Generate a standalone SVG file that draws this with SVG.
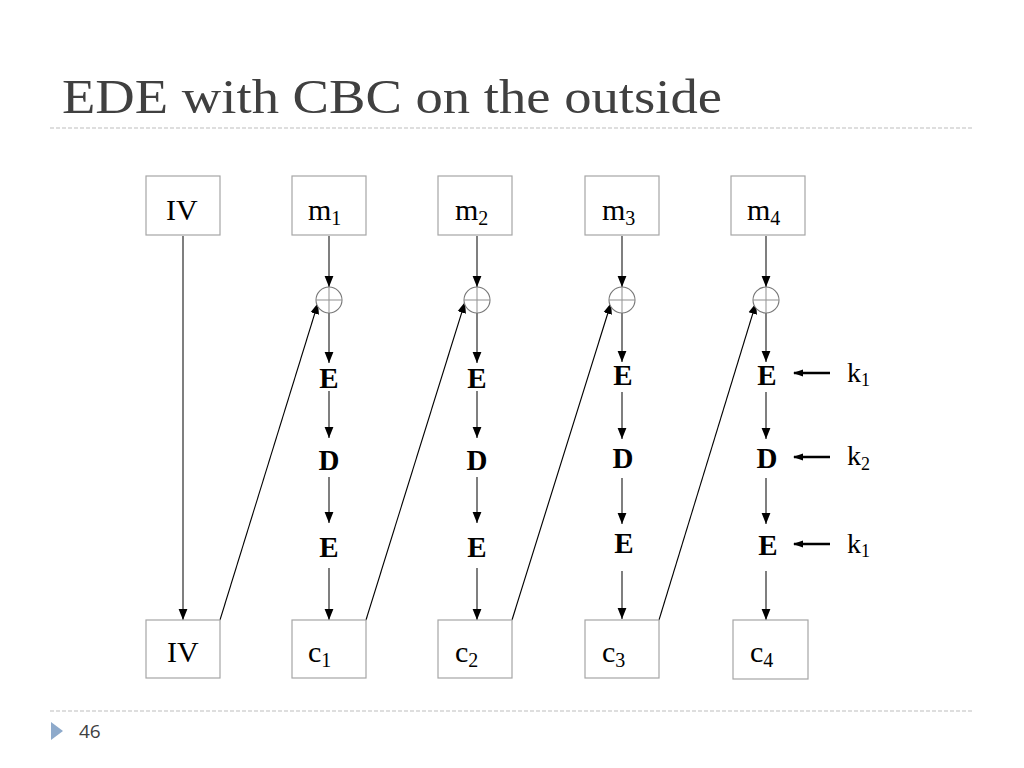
<svg xmlns="http://www.w3.org/2000/svg" width="1024" height="768" viewBox="0 0 1024 768">
<defs>
<style>
.box{fill:#fff;stroke:#a6a6a6;stroke-width:1.2}
.lbl{font-family:"Liberation Serif","Times New Roman",serif;font-size:30px;fill:#000}
.sub{font-size:20px}
.op{font-family:"Liberation Serif","Times New Roman",serif;font-size:29px;font-weight:bold;fill:#000;text-anchor:middle}
.key{font-family:"Liberation Serif","Times New Roman",serif;font-size:28px;fill:#000}
.ksub{font-size:18px}
.v{stroke:#555;stroke-width:1.5;fill:none;marker-end:url(#ah)}
.d{stroke:#000;stroke-width:1.1;fill:none;marker-end:url(#ah)}
.k{stroke:#000;stroke-width:2.6;fill:none;marker-end:url(#ahk)}
.xor{fill:#fff;stroke:#777;stroke-width:1.1}
.xl{stroke:#999;stroke-width:1.1}
.sep{stroke:#bdbdbd;stroke-width:1;stroke-dasharray:4 2}
</style>
<marker id="ah" markerUnits="userSpaceOnUse" markerWidth="11" markerHeight="11" viewBox="0 0 10 10" refX="10" refY="5" orient="auto">
<path d="M0,1 L10,5 L0,9 z" fill="#000"/>
</marker>
<marker id="ahk" markerUnits="userSpaceOnUse" markerWidth="10" markerHeight="10" viewBox="0 0 10 10" refX="9" refY="5" orient="auto">
<path d="M0,1.5 L10,5 L0,8.5 z" fill="#000"/>
</marker>
</defs>
<rect width="1024" height="768" fill="#fff"/>
<g id="title">
<text x="62" y="113" font-family="Liberation Serif,'Times New Roman',serif" font-size="48" fill="#404040" textLength="660" lengthAdjust="spacingAndGlyphs">EDE with CBC on the outside</text>
<line class="sep" x1="50" y1="128" x2="972" y2="128"/>
</g>
<g id="connectors">
<line class="v" x1="183" y1="236" x2="183" y2="620"/>
<line class="v" x1="329" y1="236" x2="329" y2="287"/>
<line class="v" x1="329" y1="313" x2="329" y2="363"/>
<line class="v" x1="329" y1="391" x2="329" y2="438"/>
<line class="v" x1="329" y1="477" x2="329" y2="523"/>
<line class="v" x1="329" y1="568" x2="329" y2="620"/>
<line class="v" x1="477" y1="236" x2="477" y2="287"/>
<line class="v" x1="477" y1="313" x2="477" y2="363"/>
<line class="v" x1="477" y1="391" x2="477" y2="438"/>
<line class="v" x1="477" y1="477" x2="477" y2="523"/>
<line class="v" x1="477" y1="568" x2="477" y2="620"/>
<line class="v" x1="622" y1="236" x2="622" y2="287"/>
<line class="v" x1="622" y1="313" x2="622" y2="362"/>
<line class="v" x1="622" y1="392" x2="622" y2="439"/>
<line class="v" x1="622" y1="478" x2="622" y2="524"/>
<line class="v" x1="622" y1="571" x2="622" y2="619"/>
<line class="v" x1="766" y1="236" x2="766" y2="287"/>
<line class="v" x1="766" y1="313" x2="766" y2="362"/>
<line class="v" x1="766" y1="392" x2="766" y2="439"/>
<line class="v" x1="766" y1="478" x2="766" y2="524"/>
<line class="v" x1="766" y1="571" x2="766" y2="620"/>
<line class="d" x1="220" y1="620" x2="318" y2="303"/>
<line class="d" x1="366" y1="620" x2="465" y2="302"/>
<line class="d" x1="512" y1="620" x2="611" y2="303"/>
<line class="d" x1="659" y1="620" x2="756" y2="303"/>
<line class="k" x1="830" y1="373" x2="794" y2="373"/>
<line class="k" x1="830" y1="457" x2="794" y2="457"/>
<line class="k" x1="830" y1="544" x2="794" y2="544"/>
</g>
<g id="iv-top"><rect class="box" x="146" y="176" width="74" height="59"/><text class="lbl" x="166" y="220">IV</text></g>
<g id="m1"><rect class="box" x="292" y="176" width="74" height="59"/><text class="lbl" x="308" y="220">m<tspan class="sub" dy="5">1</tspan></text></g>
<g id="m2"><rect class="box" x="438" y="176" width="74" height="59"/><text class="lbl" x="455" y="220">m<tspan class="sub" dy="5">2</tspan></text></g>
<g id="m3"><rect class="box" x="585" y="176" width="74" height="59"/><text class="lbl" x="602" y="220">m<tspan class="sub" dy="5">3</tspan></text></g>
<g id="m4"><rect class="box" x="731" y="176" width="74" height="59"/><text class="lbl" x="747" y="220">m<tspan class="sub" dy="5">4</tspan></text></g>
<g id="xor1"><circle class="xor" cx="329" cy="300" r="13"/><line class="xl" x1="316" y1="300" x2="342" y2="300"/><line class="xl" x1="329" y1="287" x2="329" y2="313"/></g>
<g id="xor2"><circle class="xor" cx="477" cy="300" r="13"/><line class="xl" x1="464" y1="300" x2="490" y2="300"/><line class="xl" x1="477" y1="287" x2="477" y2="313"/></g>
<g id="xor3"><circle class="xor" cx="622" cy="300" r="13"/><line class="xl" x1="609" y1="300" x2="635" y2="300"/><line class="xl" x1="622" y1="287" x2="622" y2="313"/></g>
<g id="xor4"><circle class="xor" cx="766" cy="300" r="13"/><line class="xl" x1="753" y1="300" x2="779" y2="300"/><line class="xl" x1="766" y1="287" x2="766" y2="313"/></g>
<g id="col1-ops"><text class="op" x="329" y="388">E</text><text class="op" x="329" y="470">D</text><text class="op" x="329" y="557">E</text></g>
<g id="col2-ops"><text class="op" x="477" y="388">E</text><text class="op" x="477" y="470">D</text><text class="op" x="477" y="557">E</text></g>
<g id="col3-ops"><text class="op" x="623" y="385">E</text><text class="op" x="623" y="468">D</text><text class="op" x="624" y="553">E</text></g>
<g id="col4-ops"><text class="op" x="767" y="385">E</text><text class="op" x="767" y="468">D</text><text class="op" x="768" y="555">E</text></g>
<g id="keys">
<text class="key" x="847" y="382">k<tspan class="ksub" dy="4">1</tspan></text>
<text class="key" x="847" y="465">k<tspan class="ksub" dy="5">2</tspan></text>
<text class="key" x="847" y="553">k<tspan class="ksub" dy="4">1</tspan></text>
</g>
<g id="iv-bottom"><rect class="box" x="146" y="620" width="74" height="58"/><text class="lbl" x="167" y="662">IV</text></g>
<g id="c1"><rect class="box" x="292" y="620" width="74" height="58"/><text class="lbl" x="308" y="662">c<tspan class="sub" dy="5">1</tspan></text></g>
<g id="c2"><rect class="box" x="438" y="620" width="74" height="58"/><text class="lbl" x="455" y="662">c<tspan class="sub" dy="5">2</tspan></text></g>
<g id="c3"><rect class="box" x="585" y="620" width="74" height="58"/><text class="lbl" x="602" y="662">c<tspan class="sub" dy="5">3</tspan></text></g>
<g id="c4"><rect class="box" x="733" y="620" width="75" height="59"/><text class="lbl" x="750" y="662">c<tspan class="sub" dy="5">4</tspan></text></g>
<g id="footer">
<line class="sep" x1="50" y1="711" x2="972" y2="711"/>
<polygon points="51,722 63,731 51,740" fill="#8eaacb"/>
<text x="79" y="738" font-family="'Open Sans','DejaVu Sans',sans-serif" font-size="19" fill="#404040">46</text>
</g>
</svg>
